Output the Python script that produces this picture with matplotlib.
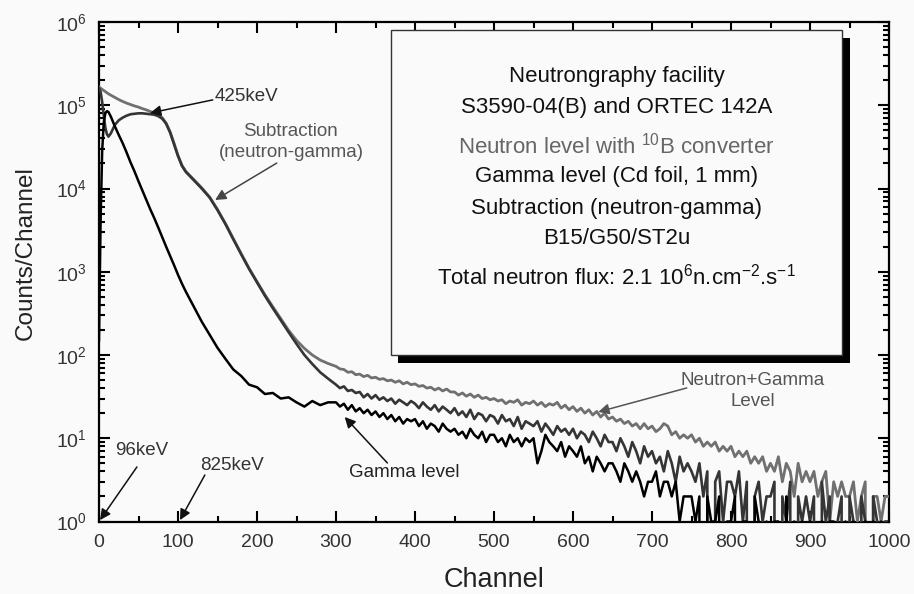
import numpy as np
import matplotlib
matplotlib.use("Agg")
import matplotlib.pyplot as plt
from matplotlib.patches import Rectangle

plt.rcParams["font.family"] = "Liberation Sans"
plt.rcParams["mathtext.fontset"] = "custom"
plt.rcParams["mathtext.rm"] = "Liberation Sans"
plt.rcParams["mathtext.it"] = "Liberation Sans:italic"
plt.rcParams["mathtext.bf"] = "Liberation Sans:bold"

# --- spectra (counts per channel) ---
HEAD_CH = [0, 2, 4, 6, 8, 10, 12, 15, 20, 25, 30, 35, 40, 45, 50, 55, 60, 65, 70, 75,
           80, 85, 90, 95, 100, 105, 110, 120, 130, 140, 150, 160, 170, 180, 190, 200,
           210, 220, 230, 240, 250, 260, 270, 280, 290]
TAIL_CH = list(range(300, 1005, 5))

NEUTRON_HEAD = [1.66e5, 1.60e5, 1.55e5, 1.50e5, 1.45e5, 1.41e5, 1.37e5, 1.32e5, 1.24e5, 1.17e5,
                1.11e5, 1.06e5, 1.02e5, 9.8e4, 9.5e4, 9.1e4, 8.8e4, 8.4e4, 8.1e4, 7.7e4,
                7.1e4, 6.1e4, 4.8e4, 3.5e4, 2.5e4, 1.9e4, 1.6e4, 1.28e4, 1.02e4, 7.9e3,
                5.6e3, 3.8e3, 2.5e3, 1.65e3, 1.1e3, 760, 530, 380, 275, 198,
                150, 120, 100, 87, 79]
NEUTRON_TAIL = [73, 68, 67, 62, 63, 58, 59, 55, 57, 53,
                54, 51, 52, 49, 50, 47, 49, 45, 47, 44,
                45, 42, 43, 40, 41, 38, 40, 37, 39, 36,
                36, 33, 35, 32, 34, 31, 33, 30, 31, 29,
                30, 28, 29, 26, 28, 27, 29, 25, 27, 26,
                28, 25, 27, 24, 26, 25, 27, 23, 25, 22,
                24, 21, 23, 20, 22, 19, 21, 18, 20, 17,
                18, 16, 17, 15, 16, 14, 15, 13, 15, 13,
                14, 12, 13, 15, 14, 11, 12, 10, 11, 10,
                11, 9, 10, 8, 9, 8, 9, 7, 8, 7,
                8, 6, 7, 6, 7, 5, 6, 5, 6, 4,
                5, 4, 6, 3, 5, 4, 2, 5, 3, 4,
                3, 4, 2, 3, 4, 1, 3, 2, 3, 2,
                2, 3, 1, 2, 3, 0, 2, 2, 1, 2,
                2]

SUBTR_HEAD = [1.6e5, 1.45e5, 1.1e5, 7.5e4, 5.4e4, 4.5e4, 4.2e4, 4.6e4, 5.8e4, 6.6e4,
              7.1e4, 7.5e4, 7.8e4, 7.9e4, 8.0e4, 8.0e4, 7.9e4, 7.8e4, 7.7e4, 7.4e4,
              6.9e4, 6.0e4, 4.7e4, 3.4e4, 2.45e4, 1.87e4, 1.58e4, 1.26e4, 1.0e4, 7.8e3,
              5.5e3, 3.75e3, 2.45e3, 1.62e3, 1.08e3, 745, 515, 365, 262, 188,
              136, 100, 78, 62, 52]
SUBTR_TAIL = [44, 40, 42, 37, 38, 35, 36, 31, 34, 30,
              33, 29, 31, 28, 30, 26, 29, 27, 25, 28,
              26, 23, 27, 24, 22, 25, 21, 24, 22, 20,
              23, 19, 21, 18, 22, 17, 20, 19, 16, 19,
              18, 15, 19, 16, 17, 14, 18, 13, 16, 15,
              14, 16, 12, 15, 13, 11, 14, 12, 13, 11,
              13, 10, 12, 11, 9, 12, 10, 8, 11, 9,
              9, 7, 10, 8, 6, 9, 7, 5, 8, 6,
              7, 5, 6, 4, 7, 5, 3, 6, 4, 5,
              4, 3, 5, 2, 4, 0, 3, 4, 1, 3,
              3, 2, 4, 1, 3, 0, 2, 3, 1, 2,
              2, 3, 0, 2, 1, 3, 0, 2, 1, 2,
              1, 2, 0, 3, 1, 2, 0, 1, 2, 0,
              2, 1, 0, 2, 1, 0, 2, 1, 0, 1,
              1]

GAMMA_HEAD = [150, 4000, 2.8e4, 6.2e4, 8.0e4, 8.5e4, 8.3e4, 7.3e4, 5.6e4, 4.4e4,
              3.5e4, 2.7e4, 2.05e4, 1.6e4, 1.22e4, 9.4e3, 7.2e3, 5.6e3, 4.4e3, 3.4e3,
              2.6e3, 2.0e3, 1.55e3, 1.2e3, 920, 720, 575, 380, 252, 175,
              122, 90, 67, 56, 44, 41, 34, 35, 30, 31,
              27, 24, 28, 25, 27]
GAMMA_TAIL = [27, 24, 26, 22, 25, 21, 23, 20, 22, 19,
              21, 18, 20, 17, 19, 16, 18, 15, 17, 16,
              17, 14, 16, 13, 15, 14, 12, 15, 13, 12,
              13, 11, 12, 10, 13, 11, 10, 12, 9, 11,
              11, 9, 10, 8, 11, 9, 10, 8, 10, 9,
              10, 5, 7, 11, 9, 8, 7, 9, 6, 8,
              7, 6, 8, 5, 6, 4, 6, 5, 4, 5,
              5, 4, 3, 5, 4, 3, 4, 3, 2, 3,
              3, 4, 2, 3, 3, 2, 3, 1, 2, 2,
              2, 1, 2, 0, 2, 1, 1, 2, 0, 1,
              1, 2, 0, 1, 1, 0, 2, 1, 0, 1,
              0, 1, 1, 0, 2, 0, 1, 0, 1, 0,
              1, 0, 0, 1, 0, 1, 1, 0, 0, 1,
              0, 1, 0, 0, 1, 0, 1, 0, 1, 0,
              1]

BOX_LINES = ["Neutrongraphy facility",
             "S3590-04(B) and ORTEC 142A",
             r"Neutron level with $^{10}$B converter",
             "Gamma level (Cd foil, 1 mm)",
             "Subtraction (neutron-gamma)",
             "B15/G50/ST2u",
             r"Total neutron flux: 2.1 10$^{6}$n.cm$^{-2}$.s$^{-1}$"]

BG = "#fafafa"
C_NEUT, C_SUB, C_GAM = "#707070", "#353535", "#000000"

ch = np.array(HEAD_CH + TAIL_CH)
neut = np.array(NEUTRON_HEAD + NEUTRON_TAIL, dtype=float)
sub = np.array(SUBTR_HEAD + SUBTR_TAIL, dtype=float)
gam = np.array(GAMMA_HEAD + GAMMA_TAIL, dtype=float)

fig = plt.figure(figsize=(9.14, 5.94), dpi=100, facecolor=BG)
ax = fig.add_axes([99 / 914, 72.5 / 594, 790 / 914, 499.5 / 594], facecolor=BG)

ax.plot(ch, neut, color=C_NEUT, lw=2.0, zorder=3)
ax.plot(ch, sub, color=C_SUB, lw=1.9, zorder=4)
ax.plot(ch, gam, color=C_GAM, lw=1.8, zorder=5)

ax.set_yscale("log", nonpositive="clip")
ax.set_xlim(0, 1000)
ax.set_ylim(1, 1e6)
ax.set_xticks(range(0, 1001, 100))
ax.set_xticks(range(50, 1000, 100), minor=True)
ax.tick_params(which="both", direction="in", top=True, right=True, width=1.5,
               labelsize=14, labelcolor="#333333")
ax.tick_params(which="major", length=8, pad=9)
ax.tick_params(which="minor", length=4)
for s in ax.spines.values():
    s.set_linewidth(1.6)

ax.set_xlabel("Channel", fontsize=19.5, color="#222222")
ax.xaxis.set_label_coords(0.5, -0.131)
ax.xaxis.label.set_va("baseline")
ax.set_ylabel("Counts/Channel", fontsize=17.5, color="#222222")
ax.yaxis.set_label_coords(-0.093, 0.5365)
ax.yaxis.label.set_va("center")

# legend-like box with drop shadow
ax.add_patch(Rectangle((0.3785, 0.3173), 0.5721, 0.6507, transform=ax.transAxes,
                       facecolor="black", edgecolor="none", zorder=6))
ax.add_patch(Rectangle((0.3696, 0.3333), 0.5709, 0.6507, transform=ax.transAxes,
                       facecolor=BG, edgecolor="#333333", lw=1.0, zorder=7))
box_y = [0.8905, 0.8298, 0.7518, 0.6904, 0.6271, 0.5656, 0.4901]
for i, (txt, yy) in enumerate(zip(BOX_LINES, box_y)):
    ax.text(0.655, yy, txt, transform=ax.transAxes, ha="center", va="center",
            fontsize=16, color="#666666" if i == 2 else "#111111", zorder=8)

# annotations
def arrow(tip, start, color):
    ax.annotate("", xy=tip, xytext=start, zorder=9,
                arrowprops=dict(arrowstyle="-|>", color=color, lw=1.1,
                                mutation_scale=16, shrinkA=0, shrinkB=0))

ax.text(186, 1.29e5, "425keV", ha="center", va="center", fontsize=13.5, color="#333333")
arrow((64.6, 8.07e4), (144, 1.16e5), "#111111")

ax.text(243, 3.6e4, "Subtraction\n(neutron-gamma)", ha="center", va="center",
        fontsize=13.5, color="#555555", linespacing=1.35)
arrow((147, 7280), (225, 2.02e4), "#444444")

ax.text(827, 37, "Neutron+Gamma\nLevel", ha="center", va="center",
        fontsize=13.5, color="#555555", linespacing=1.35)
arrow((632, 20.7), (744, 40.2), "#555555")

ax.text(386, 3.83, "Gamma level", ha="center", va="center", fontsize=13.5, color="#222222")
arrow((311, 18.0), (365, 5.05), "#111111")

ax.text(54.4, 7.03, "96keV", ha="center", va="center", fontsize=13.5, color="#333333")
arrow((1.3, 1.04), (48, 4.52), "#111111")

ax.text(168, 4.77, "825keV", ha="center", va="center", fontsize=13.5, color="#333333")
arrow((102.5, 1.04), (134, 3.62), "#111111")

fig.savefig("out.png", dpi=100, facecolor=BG)
